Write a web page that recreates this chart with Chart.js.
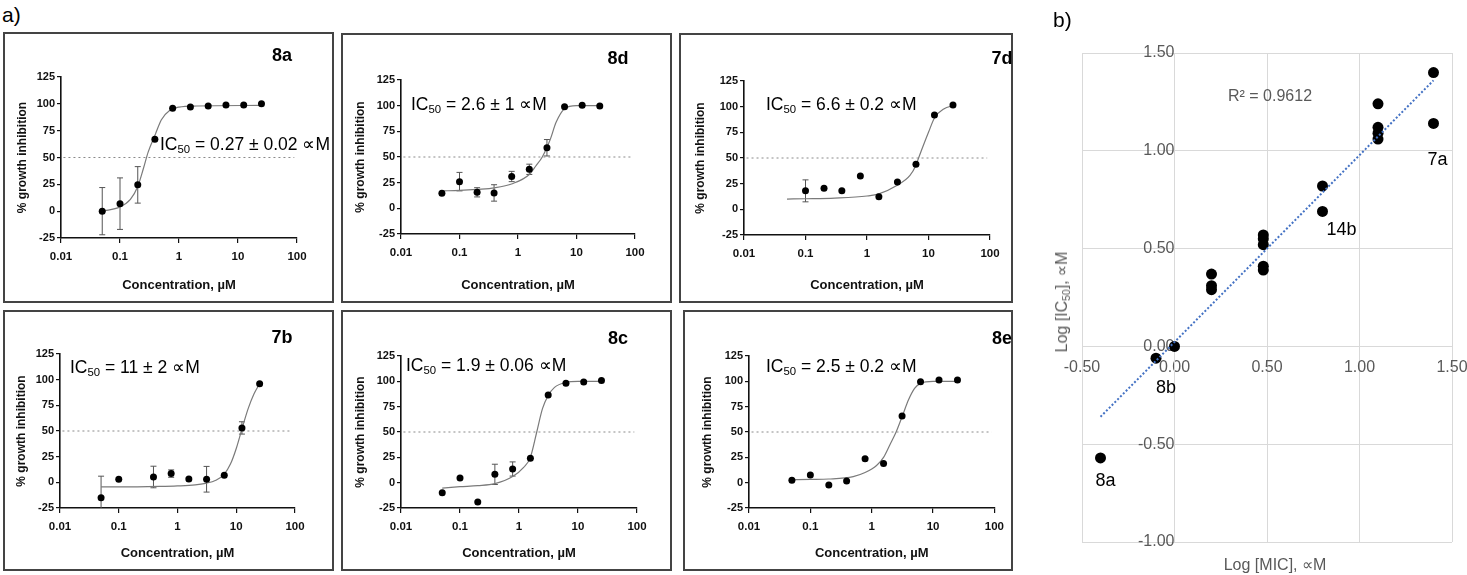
<!DOCTYPE html>
<html>
<head>
<meta charset="utf-8">
<script src="https://cdn.jsdelivr.net/npm/chart.js@4.4.1/dist/chart.umd.min.js"></script>
<style>
  body { margin: 0; width: 1467px; height: 575px; background: #fff; position: relative; overflow: hidden;
         font-family: "Liberation Sans", Arial, Helvetica, sans-serif; color: #000; }
  .box { position: absolute; border: 2px solid #444; box-sizing: border-box; }
  .wrap { position: absolute; }
  .lbl { position: absolute; white-space: nowrap; line-height: 1; }
  .tag { font-weight: bold; font-size: 18px; transform: translate(-50%, -50%); }
  .ic { font-size: 17.5px; transform: translateY(-50%); }
  .ic sub, .ytl sub { font-size: 0.65em; vertical-align: -0.25em; line-height: 0; }
  .grey { color: #595959; font-size: 16px; }
</style>
</head>
<body>
<script>
Chart.defaults.font.family = '"Liberation Sans", Arial, Helvetica, sans-serif';
Chart.defaults.animation = false;

// ---------- a) dose-response panels ----------
const concFull = [0.05, 0.1, 0.2, 0.39, 0.78, 1.56, 3.125, 6.25, 12.5, 25];
const conc7b = [0.05, 0.1, 0.39, 0.78, 1.56, 3.125, 6.25, 12.5, 25];
const conc7d = [0.1, 0.2, 0.39, 0.78, 1.56, 3.125, 6.25, 12.5, 25];

const inh8a = [0, 7, 24.5, 67, 96, 97, 98, 99, 99, 100];
const sd8a = [22, 24, 17, 0, 0, 0, 0, 0, 0, 0];
const fitX8a = [0.05, 0.1, 0.15, 0.2, 0.25, 0.3, 0.4, 0.5, 0.7, 1, 2, 25];
const fitY8a = [0, 4, 11, 23, 40, 55, 72, 85, 94, 97, 98, 98.5];

const inh8d = [14.6, 26, 15.6, 15, 31, 38, 59, 99, 100.5, 99.7];
const sd8d = [0, 9, 4.5, 8, 5, 5, 8, 0, 0, 0];
const fitX8d = [0.05, 0.1, 0.2, 0.4, 0.8, 1.56, 2, 2.6, 3.5, 4.5, 6.25, 10, 25];
const fitY8d = [17, 17.5, 18.5, 20, 24, 33, 41, 50, 66, 84, 97, 100, 100];

const inh7d = [18, 20.5, 18, 32.5, 12.3, 26.6, 43.8, 92, 101.6];
const sd7d = [10.7, 0, 0, 0, 0, 0, 0, 0, 0];
const fitX7d = [0.05, 0.1, 0.3, 1, 1.56, 3, 5, 6.25, 7, 10, 12.5, 18, 25];
const fitY7d = [10, 10.3, 11, 13, 15, 23, 33, 43, 51, 75, 89, 98, 101];

const inh7b = [-15, 3, 5.2, 8.5, 3.3, 3, 7, 53, 96];
const sd7b = [21, 0, 10.5, 3.6, 0, 12.5, 0, 6, 0];
const fitX7b = [0.05, 0.1, 0.5, 1, 2, 3, 4.5, 6.25, 8, 10, 12.5, 16, 20, 25];
const fitY7b = [-4.5, -4.5, -4, -3.5, -2.5, -1, 2, 8, 18, 33, 52, 72, 86, 96];

const inh8c = [-9.9, 4.6, -19, 8.2, 13.5, 24, 86.5, 98, 99.3, 100.7];
const sd8c = [0, 0, 0, 10, 7, 0, 0, 0, 0, 0];
const fitX8c = [0.05, 0.1, 0.2, 0.39, 0.78, 1.2, 1.56, 2, 2.5, 3.125, 4, 6.25, 10, 25];
const fitY8c = [-5.3, -4, -3, -1, 6, 15, 25, 50, 73, 86, 94, 99, 100, 100];

const inh8e = [2.3, 7.5, -2.3, 1.6, 23.6, 19, 65.8, 99.6, 101.2, 101.2];
const sd8e = [0, 0, 0, 0, 0, 0, 0, 0, 0, 0];
const fitX8e = [0.05, 0.1, 0.2, 0.5, 0.78, 1.2, 1.56, 2, 2.5, 3.125, 4, 5, 6.25, 10, 25];
const fitY8e = [3, 3.2, 3.6, 6, 10, 17, 25, 38, 50, 65, 82, 93, 98, 100, 100];

const ic50Text = ['0.27 ± 0.02', '2.6 ± 1', '6.6 ± 0.2', '11 ± 2', '1.9 ± 0.06', '2.5 ± 0.2'];
const panelNames = ['8a', '8d', '7d', '7b', '8c', '8e'];

const xTickVals = [0.01, 0.1, 1, 10, 100];
const xTickLabels = ['0.01', '0.1', '1', '10', '100'];
const refX = [0.011, 90];
const refY = [50, 50];

// ---------- b) correlation ----------
const logMIC = [1.40, 1.40, 1.10, 1.10, 1.10, 1.10, 0.80, 0.80, 0.48, 0.48, 0.48, 0.48, 0.48, 0.20, 0.20, 0.20, 0.00, -0.10, -0.40];
const logIC50 = [1.40, 1.14, 1.24, 1.12, 1.09, 1.06, 0.82, 0.69, 0.57, 0.55, 0.52, 0.41, 0.39, 0.37, 0.31, 0.29, 0.00, -0.06, -0.57];
const pointNames = ['', '7a', '', '', '', '', '', '14b', '', '', '', '', '', '', '', '', '', '8b', '8a'];
const trendX = [-0.40, 1.40];
const trendY = [-0.36, 1.36];
const bTicksX = ['-0.50', '0.00', '0.50', '1.00', '1.50'];
const bTicksY = ['-1.00', '-0.50', '0.00', '0.50', '1.00', '1.50'];

const pts = (xs, ys) => xs.map((x, i) => ({ x: x, y: ys[i] }));

const errorBars = {
  id: 'errorBars',
  beforeDatasetsDraw(chart) {
    const ds = chart.data.datasets[0];
    if (!ds.errors) return;
    const meta = chart.getDatasetMeta(0);
    const ys = chart.scales.y, a = chart.chartArea, ctx = chart.ctx;
    ctx.save();
    ctx.beginPath();
    ctx.rect(a.left, a.top - 3, a.right - a.left, a.bottom - a.top + 3);
    ctx.clip();
    ctx.strokeStyle = '#555';
    ctx.lineWidth = 1;
    meta.data.forEach((pt, i) => {
      const e = ds.errors[i];
      if (!e) return;
      const v = ds.data[i].y;
      const top = ys.getPixelForValue(v + e), bot = ys.getPixelForValue(v - e);
      ctx.beginPath();
      ctx.moveTo(pt.x, top); ctx.lineTo(pt.x, bot);
      ctx.moveTo(pt.x - 3, top); ctx.lineTo(pt.x + 3, top);
      ctx.moveTo(pt.x - 3, bot); ctx.lineTo(pt.x + 3, bot);
      ctx.stroke();
    });
    ctx.restore();
  }
};

// layout of each panel in page pixels
const layouts = [
  { box: [3, 32, 334, 303], plot: [61, 77, 297, 238], yTitleX: 23, xTitleY: 285, tag: [282, 55], ic: [160, 145] },
  { box: [341, 33, 672, 303], plot: [401, 80, 635, 234], yTitleX: 361, xTitleY: 285, tag: [618, 58], ic: [411, 105] },
  { box: [679, 33, 1013, 303], plot: [744, 81, 990, 235], yTitleX: 701, xTitleY: 285, tag: [1002, 58], ic: [766, 105] },
  { box: [3, 310, 334, 571], plot: [60, 354, 295, 508], yTitleX: 22, xTitleY: 553, tag: [282, 337], ic: [70, 368] },
  { box: [341, 310, 672, 571], plot: [401, 356, 637, 508], yTitleX: 361, xTitleY: 553, tag: [618, 338], ic: [406, 366] },
  { box: [683, 310, 1013, 571], plot: [749, 356, 995, 508], yTitleX: 708, xTitleY: 553, tag: [1002, 338], ic: [766, 367] }
];

const panelData = [
  [concFull, inh8a, sd8a, fitX8a, fitY8a],
  [concFull, inh8d, sd8d, fitX8d, fitY8d],
  [conc7d, inh7d, sd7d, fitX7d, fitY7d],
  [conc7b, inh7b, sd7b, fitX7b, fitY7b],
  [concFull, inh8c, sd8c, fitX8c, fitY8c],
  [concFull, inh8e, sd8e, fitX8e, fitY8e]
];

function addLabel(cls, html, x, y) {
  const d = document.createElement('div');
  d.className = 'lbl ' + cls;
  d.innerHTML = html;
  d.style.left = x + 'px';
  d.style.top = y + 'px';
  document.body.appendChild(d);
  return d;
}

function makePanel(k) {
  const L = layouts[k];
  const [xs, ys, sd, fx, fy] = panelData[k];
  const [bl, bt, br, bb] = L.box;
  const border = 2;
  const box = document.createElement('div');
  box.className = 'box';
  box.style.left = bl + 'px';
  box.style.top = bt + 'px';
  box.style.width = (br - bl) + 'px';
  box.style.height = (bb - bt) + 'px';
  const canvas = document.createElement('canvas');
  box.appendChild(canvas);
  document.body.appendChild(box);

  const ox = bl + border, oy = bt + border;
  const innerW = br - bl - 2 * border, innerH = bb - bt - 2 * border;
  const yTitleOff = 12 * 1.2 / 2 + 4;
  const xTitleOff = 13 * 1.2 / 2 + 4;
  const padL = L.yTitleX - ox - yTitleOff;
  const yW = L.plot[0] - ox - padL;
  const padT = L.plot[1] - oy;
  const padR = innerW - (L.plot[2] - ox);
  const axisBottom = L.xTitleY + xTitleOff - oy;
  const xH = axisBottom - (L.plot[3] - oy);
  const padB = innerH - axisBottom;
  const ink = '#111';

  new Chart(canvas, {
    type: 'scatter',
    data: {
      datasets: [
        { data: pts(xs, ys), errors: sd, pointRadius: 3.5, pointBorderWidth: 0,
          backgroundColor: '#000', borderColor: '#000' },
        { data: pts(fx, fy), showLine: true, pointRadius: 0, borderColor: '#7a7a7a',
          borderWidth: 1.2, cubicInterpolationMode: 'monotone' },
        { data: pts(refX, refY), showLine: true, pointRadius: 0, borderColor: '#8a8a8a',
          borderWidth: 1, borderDash: [2, 3] }
      ]
    },
    options: {
      responsive: true,
      maintainAspectRatio: false,
      events: [],
      layout: { padding: { left: padL, top: padT, right: padR, bottom: padB } },
      plugins: { legend: { display: false }, tooltip: { enabled: false } },
      scales: {
        x: {
          type: 'logarithmic', min: 0.01, max: 100,
          afterBuildTicks: s => { s.ticks = xTickVals.map(v => ({ value: v, major: true })); },
          afterFit: s => { s.height = xH; },
          ticks: { callback: (v, i) => xTickLabels[i], autoSkip: false, maxRotation: 0, padding: 7,
                   color: ink, font: { size: 11.5, weight: 'bold' } },
          grid: { drawOnChartArea: false, drawTicks: true, tickLength: 5, color: ink, lineWidth: 1.2 },
          border: { color: ink, width: 1.6 },
          title: { display: true, text: 'Concentration, µM', color: ink,
                   font: { size: 13, weight: 'bold' }, padding: { top: 4, bottom: 4 } }
        },
        y: {
          min: -25, max: 125,
          afterFit: s => { s.width = yW; },
          ticks: { stepSize: 25, padding: 2, color: ink, font: { size: 11, weight: 'bold' } },
          grid: { drawOnChartArea: false, drawTicks: true, tickLength: 4, color: ink, lineWidth: 1.2 },
          border: { color: ink, width: 1.6 },
          title: { display: true, text: '% growth inhibition', color: ink,
                   font: { size: 12, weight: 'bold' }, padding: { top: 4, bottom: 4 } }
        }
      }
    },
    plugins: [errorBars]
  });

  addLabel('tag', panelNames[k], L.tag[0], L.tag[1]);
  addLabel('ic', 'IC<sub>50</sub> = ' + ic50Text[k] + ' ∝M', L.ic[0], L.ic[1]);
}

for (let k = 0; k < layouts.length; k++) makePanel(k);

addLabel('', 'a)', 2, 4).style.fontSize = '21px';
addLabel('', 'b)', 1053, 9).style.fontSize = '21px';

// ---------- b) scatter with trend line ----------
const labelOffsets = { '7a': [4, 37], '14b': [19, 19], '8b': [10, 30], '8a': [5, 23] };
const pointLabels = {
  id: 'pointLabels',
  afterDatasetsDraw(chart) {
    const meta = chart.getDatasetMeta(1), ctx = chart.ctx;
    ctx.save();
    ctx.fillStyle = '#000';
    ctx.font = '18px "Liberation Sans", Arial, sans-serif';
    ctx.textAlign = 'center';
    ctx.textBaseline = 'middle';
    pointNames.forEach((n, i) => {
      if (!n) return;
      const p = meta.data[i], o = labelOffsets[n];
      ctx.fillText(n, p.x + o[0], p.y + o[1]);
    });
    ctx.restore();
  }
};

const bWrap = document.createElement('div');
bWrap.className = 'wrap';
Object.assign(bWrap.style, { left: '1060px', top: '0px', width: '407px', height: '575px' });
const bCanvas = document.createElement('canvas');
bWrap.appendChild(bCanvas);
document.body.appendChild(bWrap);

const greyTxt = '#595959', gridCol = '#d9d9d9';
new Chart(bCanvas, {
  type: 'scatter',
  data: {
    datasets: [
      { data: pts(trendX, trendY), showLine: true, pointRadius: 0, borderColor: '#4472C4',
        borderWidth: 2, borderDash: [2, 2] },
      { data: pts(logMIC, logIC50), pointRadius: 5.5, pointBorderWidth: 0,
        backgroundColor: '#000', borderColor: '#000' }
    ]
  },
  options: {
    responsive: true,
    maintainAspectRatio: false,
    events: [],
    layout: { padding: { left: 22, top: 53, right: 15, bottom: 33 } },
    plugins: { legend: { display: false }, tooltip: { enabled: false } },
    scales: {
      x: {
        min: -0.5, max: 1.5, position: { y: 0 },
        afterFit: s => { s.paddingLeft = 0; s.paddingRight = 0; s.paddingTop = 0; s.paddingBottom = 0; },
        ticks: { stepSize: 0.5, callback: (v, i) => bTicksX[i], color: greyTxt, font: { size: 16 }, padding: 12 },
        grid: { color: gridCol, drawTicks: false },
        border: { color: gridCol }
      },
      y: {
        min: -1, max: 1.5, position: { x: 0 },
        afterFit: s => { s.paddingLeft = 0; s.paddingRight = 0; s.paddingTop = 0; s.paddingBottom = 0; },
        ticks: { stepSize: 0.5, callback: (v, i) => bTicksY[i], color: greyTxt, font: { size: 16 }, padding: 16 },
        grid: { color: gridCol, drawTicks: false },
        border: { color: gridCol }
      }
    }
  },
  plugins: [pointLabels]
});

const r2 = addLabel('grey', 'R² = 0.9612', 1270, 96);
r2.style.transform = 'translate(-50%, -50%)';
const xt = addLabel('grey', 'Log [MIC], ∝M', 1275, 565);
xt.style.transform = 'translate(-50%, -50%)';
const yt = addLabel('grey ytl', 'Log [IC<sub>50</sub>], ∝M', 1062, 302);
yt.style.transform = 'translate(-50%, -50%) rotate(-90deg)';
</script>
</body>
</html>
